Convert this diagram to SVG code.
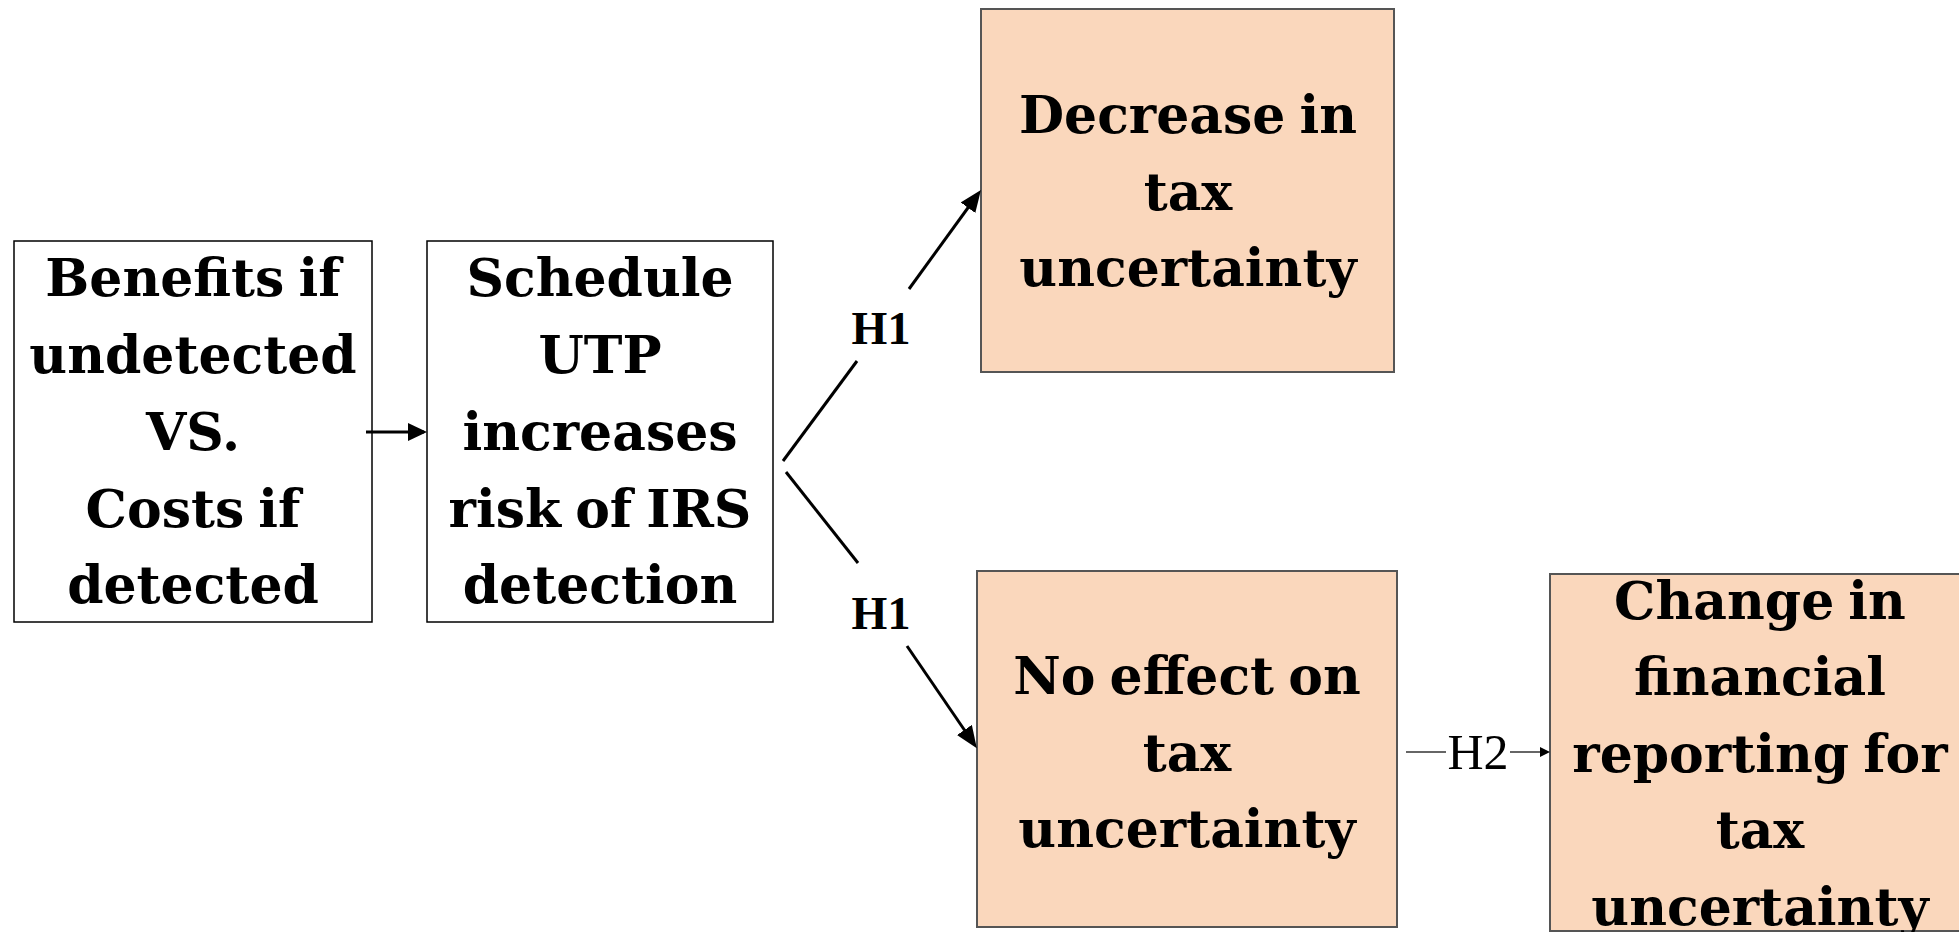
<svg xmlns="http://www.w3.org/2000/svg" width="1959" height="932" viewBox="0 0 1959 932">
<style>
.plain{fill:#ffffff;stroke:#000000;stroke-width:1.5}
.hyp{fill:#FAD7BC;stroke:#555555;stroke-width:2}
.t{font-family:"DejaVu Serif","Liberation Serif",serif;font-weight:bold;font-size:52px;word-spacing:-4px;fill:#000;text-anchor:middle}
.h1{font-family:"Liberation Serif","Times New Roman",serif;font-weight:bold;font-size:46px;fill:#000;text-anchor:middle}
.h2{font-family:"Liberation Serif","Times New Roman",serif;font-size:50px;fill:#000;text-anchor:middle}
.conn{stroke:#000;stroke-width:3;fill:none}
.thin{stroke:#333;stroke-width:1.4;fill:none}
</style>
<defs>
<marker id="big" markerUnits="userSpaceOnUse" markerWidth="24" markerHeight="20" refX="17" refY="9" orient="auto">
<path d="M0,0 L22,9 L0,18 z" fill="#000"/>
</marker>
<marker id="mid" markerUnits="userSpaceOnUse" markerWidth="22" markerHeight="20" refX="16" refY="9" orient="auto">
<path d="M0,0 L19,9 L0,18 z" fill="#000"/>
</marker>
<marker id="small" markerUnits="userSpaceOnUse" markerWidth="12" markerHeight="12" refX="8" refY="5" orient="auto">
<path d="M0,0 L10,5 L0,10 z" fill="#000"/>
</marker>
</defs>
<rect width="1959" height="932" fill="#ffffff"/>

<g id="node-benefits">
<rect class="plain" x="14" y="241" width="358" height="381"/>
<text class="t" x="193" y="296">Benefits if</text>
<text class="t" x="193" y="373">undetected</text>
<text class="t" x="193" y="450">VS.</text>
<text class="t" x="193" y="527">Costs if</text>
<text class="t" x="193" y="603">detected</text>
</g>

<g id="node-schedule">
<rect class="plain" x="427" y="241" width="346" height="381"/>
<text class="t" x="600" y="296">Schedule</text>
<text class="t" x="600" y="373">UTP</text>
<text class="t" x="600" y="450">increases</text>
<text class="t" x="600" y="527">risk of IRS</text>
<text class="t" x="600" y="603">detection</text>
</g>

<g id="node-decrease">
<rect class="hyp" x="981" y="9" width="413" height="363"/>
<text class="t" x="1188" y="133">Decrease in</text>
<text class="t" x="1188" y="210">tax</text>
<text class="t" x="1188" y="286">uncertainty</text>
</g>

<g id="node-noeffect">
<rect class="hyp" x="977" y="571" width="420" height="356"/>
<text class="t" x="1187" y="694">No effect on</text>
<text class="t" x="1187" y="771">tax</text>
<text class="t" x="1187" y="847">uncertainty</text>
</g>

<g id="node-change">
<rect class="hyp" x="1550" y="574" width="420" height="357"/>
<text class="t" x="1760" y="619">Change in</text>
<text class="t" x="1760" y="695">financial</text>
<text class="t" x="1760" y="772">reporting for</text>
<text class="t" x="1760" y="848">tax</text>
<text class="t" x="1760" y="925">uncertainty</text>
</g>

<g id="connectors">
<line class="conn" x1="366" y1="432" x2="424" y2="432" marker-end="url(#mid)"/>
<line class="conn" x1="783" y1="461" x2="857" y2="361"/>
<line class="conn" x1="909" y1="289" x2="978" y2="194" marker-end="url(#big)"/>
<text class="h1" x="881" y="344">H1</text>
<line class="conn" x1="786" y1="472" x2="858" y2="563"/>
<line class="conn" x1="907" y1="646" x2="974" y2="744" marker-end="url(#big)"/>
<text class="h1" x="881" y="629">H1</text>
<line class="thin" x1="1406" y1="752" x2="1446" y2="752"/>
<line class="thin" x1="1510" y1="752" x2="1548" y2="752" marker-end="url(#small)"/>
<text class="h2" x="1478" y="769">H2</text>
</g>
</svg>
